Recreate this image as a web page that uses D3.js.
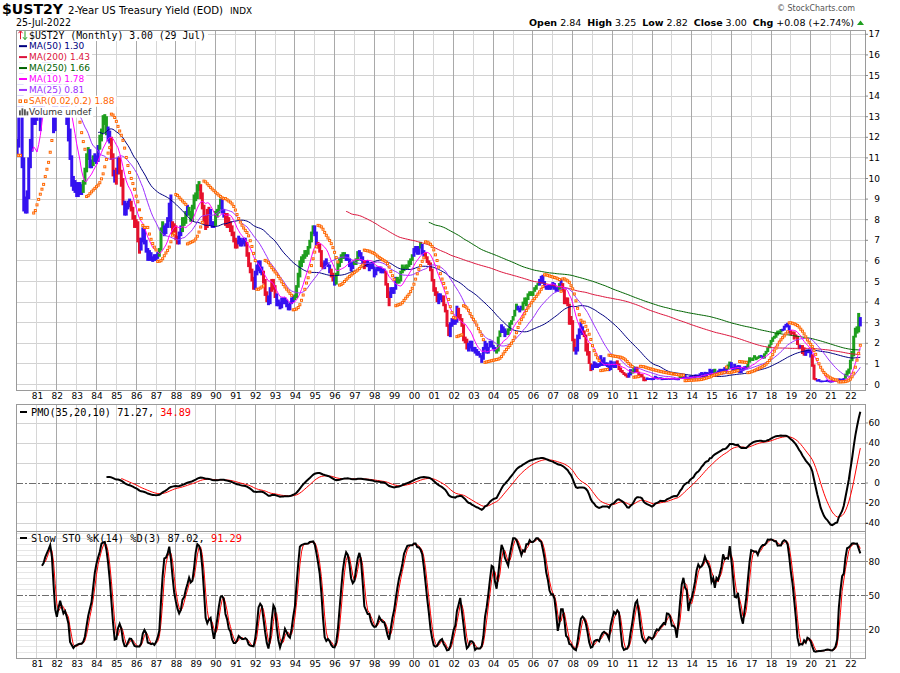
<!DOCTYPE html>
<html><head><meta charset="utf-8">
<script src="https://cdn.jsdelivr.net/npm/d3@7/dist/d3.min.js"></script>
<style>html,body{margin:0;padding:0;background:#fff;}svg{display:block;}</style>
</head><body>
<svg id="chart" width="900" height="673"></svg>
<script>
// ---------------- DATA (monthly, Jan 1980 .. Jul 2022) ----------------
const yearTicks = d3.range(1981, 2023);
const yearLabels = yearTicks.map(y => String(y % 100).padStart(2, '0'));
const mainTicks = d3.range(0, 18);
const pmoTicks = [60, 40, 20, 0, -20, -40];
const stoTicks = [80, 50, 20];

const close = [
11.6,14.3,15.0,10.8,8.8,8.4,9.2,10.7,11.4,12.8,13.7,13.3,
13.5,14.4,13.2,14.6,15.0,14.5,15.5,16.6,16.3,14.6,12.6,13.4,
14.3,14.4,14.3,13.5,13.6,14.6,12.8,12.4,11.0,9.9,9.7,9.7,
9.4,9.5,9.6,9.4,9.8,10.4,11.0,11.3,10.7,10.8,11.0,11.0,
10.9,11.5,11.9,12.3,13.0,12.9,12.3,12.1,11.8,11.0,10.3,10.0,
10.4,10.9,10.3,9.9,8.8,8.4,8.6,8.8,8.8,8.5,8.1,7.8,
7.8,7.0,6.6,7.0,7.5,6.9,6.5,6.1,6.4,6.1,6.1,6.2,
6.2,6.3,6.5,7.4,7.6,7.4,7.7,8.0,8.6,7.8,7.5,7.6,
7.1,6.9,7.3,7.5,8.0,7.9,8.3,8.5,8.3,8.0,8.6,9.1,
9.1,9.6,9.6,9.2,8.6,8.1,7.7,8.4,8.4,7.8,7.7,7.8,
8.3,8.4,8.6,8.9,8.4,8.2,7.8,7.9,7.8,7.6,7.3,7.0,
6.9,6.9,7.0,6.8,6.8,7.0,6.8,6.3,5.8,5.6,5.1,4.7,
5.4,5.6,5.9,5.6,5.4,5.0,4.4,4.1,3.9,4.6,5.0,4.7,
4.3,3.9,3.9,3.7,4.1,4.0,4.1,3.8,3.7,3.9,4.1,4.2,
4.3,4.7,5.3,5.8,6.1,6.2,6.3,6.4,6.6,6.9,7.3,7.6,
7.3,6.8,6.7,6.5,5.8,5.7,5.8,5.9,5.8,5.5,5.3,5.1,
4.9,5.3,5.8,6.0,6.2,6.3,6.2,6.2,6.1,5.8,5.6,5.9,
5.9,6.1,6.4,6.3,6.1,5.9,5.7,6.0,5.8,5.7,5.8,5.7,
5.4,5.6,5.6,5.6,5.5,5.5,5.5,4.9,4.3,4.2,4.6,4.5,
4.6,5.1,5.0,5.0,5.4,5.5,5.6,5.7,5.7,5.8,6.0,6.2,
6.5,6.6,6.4,6.6,6.7,6.4,6.3,6.2,6.0,5.9,5.6,5.1,
4.6,4.4,4.2,4.3,4.2,4.2,3.8,3.6,2.8,2.4,2.8,3.0,
3.1,3.0,3.7,3.2,3.2,2.8,2.2,2.1,1.7,1.8,2.0,1.6,
1.7,1.5,1.5,1.5,1.3,1.3,1.7,2.0,1.5,1.8,2.0,1.8,
1.7,1.6,1.6,2.3,2.5,2.7,2.7,2.4,2.6,2.6,3.0,3.1,
3.3,3.6,3.8,3.6,3.6,3.6,4.0,3.9,4.2,4.4,4.4,4.4,
4.5,4.7,4.8,4.9,5.0,5.2,4.95,4.8,4.7,4.7,4.6,4.8,
4.9,4.6,4.6,4.6,4.9,4.9,4.6,4.2,4.0,3.9,3.0,3.05,
2.1,1.6,1.6,2.3,2.65,2.6,2.5,2.4,2.0,1.6,1.0,0.77,
0.9,1.0,0.8,0.9,0.9,1.1,1.1,0.96,0.95,0.9,0.7,1.14,
0.9,0.8,1.0,0.97,0.76,0.6,0.55,0.5,0.42,0.34,0.45,0.6,
0.55,0.7,0.8,0.6,0.45,0.45,0.36,0.2,0.25,0.25,0.25,0.24,
0.22,0.29,0.33,0.27,0.27,0.30,0.23,0.23,0.23,0.28,0.25,0.25,
0.26,0.25,0.24,0.21,0.30,0.36,0.31,0.39,0.32,0.31,0.28,0.38,
0.34,0.33,0.44,0.42,0.37,0.46,0.53,0.49,0.58,0.50,0.47,0.67,
0.45,0.62,0.56,0.58,0.61,0.64,0.67,0.74,0.64,0.75,0.94,1.06,
0.76,0.78,0.73,0.78,0.88,0.58,0.66,0.81,0.77,0.84,1.11,1.20,
1.19,1.26,1.27,1.28,1.28,1.38,1.36,1.33,1.47,1.60,1.78,1.89,
2.14,2.25,2.27,2.49,2.40,2.52,2.67,2.63,2.81,2.87,2.80,2.49,
2.45,2.52,2.27,2.27,1.95,1.75,1.89,1.50,1.63,1.52,1.61,1.58,
1.33,0.86,0.23,0.20,0.16,0.16,0.11,0.14,0.13,0.14,0.15,0.12,
0.11,0.13,0.16,0.16,0.14,0.25,0.19,0.20,0.28,0.48,0.57,0.73,
1.18,1.44,2.28,2.70,2.53,2.92,3.00];

const high = [
11.9,14.6,15.9,15.2,11.0,9.1,9.4,11.0,11.9,13.1,14.3,15.3,
14.0,14.8,14.6,14.9,16.0,15.4,15.8,16.9,16.95,16.5,14.8,13.6,
14.6,14.8,14.6,14.5,13.8,14.8,14.7,13.0,12.4,11.1,10.1,9.9,
9.8,9.8,9.8,9.7,9.9,10.5,11.2,11.5,11.4,10.9,11.1,11.2,
11.1,11.6,12.1,12.4,13.05,13.1,13.0,12.5,12.3,12.0,11.2,10.4,
10.5,11.0,11.0,10.4,10.0,8.9,8.8,8.9,9.0,8.9,8.6,8.2,
8.0,7.9,7.1,7.1,7.6,7.6,7.0,6.6,6.5,6.4,6.2,6.3,
6.3,6.4,6.6,7.6,7.9,7.7,7.8,8.1,8.8,9.2,7.9,7.8,
7.7,7.2,7.4,7.7,8.1,8.1,8.4,8.7,8.6,8.4,8.7,9.2,
9.3,9.7,9.85,9.7,9.3,8.7,8.2,8.5,8.6,8.5,7.9,7.9,
8.4,8.5,8.7,9.0,9.0,8.5,8.3,8.3,8.1,7.9,7.7,7.4,
7.1,7.0,7.2,7.1,7.0,7.1,7.1,6.9,6.4,5.9,5.6,5.2,
5.5,5.8,6.0,6.0,5.7,5.5,5.1,4.5,4.3,4.7,5.1,5.1,
4.8,4.4,4.1,4.0,4.2,4.2,4.2,4.1,3.9,4.0,4.2,4.3,
4.35,4.8,5.4,6.0,6.2,6.3,6.5,6.5,6.7,7.0,7.4,7.7,
7.7,7.4,6.9,6.8,6.5,5.9,6.0,6.1,5.9,5.8,5.6,5.4,
5.2,5.4,5.9,6.1,6.3,6.4,6.4,6.3,6.3,6.1,5.9,5.95,
6.0,6.1,6.45,6.5,6.4,6.2,6.0,6.0,6.0,5.9,5.9,5.9,
5.7,5.6,5.7,5.7,5.7,5.6,5.6,5.5,4.9,4.5,4.7,4.7,
4.7,5.2,5.2,5.1,5.5,5.8,5.7,5.8,5.8,6.0,6.1,6.3,
6.6,6.7,6.7,6.7,6.9,6.8,6.5,6.4,6.2,6.0,5.9,5.6,
5.1,4.7,4.5,4.4,4.4,4.3,4.3,3.9,3.6,2.9,3.0,3.2,
3.2,3.2,3.8,3.7,3.4,3.2,2.9,2.3,2.2,2.0,2.1,2.1,
1.8,1.8,1.7,1.6,1.5,1.4,1.8,2.1,2.0,1.8,2.1,2.1,
1.9,1.8,1.7,2.3,2.6,2.9,2.8,2.7,2.6,2.7,3.0,3.1,
3.3,3.6,3.9,3.8,3.7,3.8,4.0,4.2,4.2,4.4,4.5,4.5,
4.5,4.7,4.8,4.9,5.1,5.25,5.3,5.0,4.8,4.8,4.8,4.8,
4.95,4.9,4.7,4.7,4.9,5.1,4.9,4.6,4.2,4.2,3.9,3.3,
3.1,2.2,1.8,2.4,2.7,3.0,2.8,2.6,2.4,2.0,1.6,1.0,
0.95,1.1,1.05,1.0,1.0,1.4,1.2,1.3,1.05,1.05,0.9,1.14,
1.1,0.95,1.1,1.15,1.0,0.8,0.68,0.58,0.52,0.45,0.55,0.72,
0.66,0.86,0.83,0.84,0.6,0.48,0.48,0.36,0.25,0.32,0.28,0.29,
0.27,0.31,0.40,0.35,0.30,0.33,0.31,0.29,0.28,0.30,0.29,0.28,
0.28,0.28,0.27,0.25,0.30,0.43,0.39,0.42,0.47,0.36,0.31,0.40,
0.42,0.36,0.46,0.46,0.44,0.52,0.58,0.53,0.59,0.58,0.56,0.74,
0.68,0.72,0.74,0.58,0.66,0.74,0.73,0.74,0.82,0.76,0.95,1.09,
1.06,0.82,0.98,0.87,0.92,0.91,0.72,0.83,0.86,0.88,1.13,1.30,
1.25,1.29,1.40,1.30,1.34,1.39,1.41,1.36,1.49,1.61,1.78,1.92,
2.14,2.27,2.34,2.49,2.59,2.59,2.67,2.68,2.83,2.92,2.97,2.85,
2.62,2.54,2.55,2.41,2.34,1.92,1.89,1.89,1.78,1.64,1.68,1.67,
1.62,1.44,0.95,0.29,0.21,0.24,0.16,0.17,0.15,0.17,0.21,0.18,
0.13,0.19,0.17,0.19,0.17,0.27,0.26,0.24,0.29,0.50,0.66,0.75,
1.18,1.60,2.34,2.73,2.80,3.45,3.25];

const low = [
11.1,11.5,14.0,10.5,8.4,8.3,8.3,9.0,10.5,11.3,12.6,12.6,
12.8,13.2,12.3,13.0,14.3,14.2,14.4,15.4,15.7,14.4,12.2,12.3,
13.3,14.0,13.6,13.3,13.1,13.5,12.6,11.8,10.9,9.6,9.4,9.3,
9.1,9.1,9.2,9.2,9.3,9.7,10.3,10.9,10.5,10.5,10.6,10.8,
10.7,10.8,11.4,11.8,12.2,12.6,12.1,11.8,11.7,10.9,10.1,9.8,
9.7,10.2,10.2,9.6,8.7,8.2,8.2,8.5,8.6,8.4,8.0,7.6,
7.6,6.9,6.35,6.5,6.9,6.8,6.4,6.0,6.0,6.0,5.95,6.0,
6.0,6.1,6.2,6.5,7.3,7.2,7.3,7.6,7.9,7.6,7.3,7.4,
7.0,6.8,6.8,7.2,7.4,7.7,7.8,8.2,8.2,7.9,7.9,8.5,
8.9,9.0,9.4,9.0,8.5,7.9,7.5,7.6,8.2,7.7,7.6,7.6,
7.7,8.1,8.3,8.5,8.3,8.1,7.7,7.6,7.6,7.4,7.2,6.9,
6.6,6.6,6.8,6.7,6.7,6.8,6.7,6.2,5.7,5.4,5.0,4.6,
4.6,5.3,5.5,5.4,5.3,4.9,4.3,4.0,3.85,3.9,4.5,4.6,
4.2,3.8,3.8,3.65,3.7,3.9,3.9,3.75,3.6,3.6,3.9,4.0,
4.1,4.2,4.7,5.2,5.7,5.9,6.1,6.2,6.3,6.6,6.9,7.3,
7.2,6.7,6.6,6.4,5.7,5.6,5.6,5.8,5.7,5.4,5.2,5.0,
4.8,4.85,5.3,5.7,5.9,6.1,6.1,6.0,6.0,5.7,5.5,5.6,
5.8,5.8,6.0,6.2,6.0,5.8,5.6,5.7,5.7,5.5,5.6,5.6,
5.2,5.3,5.5,5.5,5.4,5.4,5.4,4.8,4.2,3.8,4.2,4.4,
4.4,4.6,4.9,4.9,5.0,5.4,5.5,5.6,5.6,5.7,5.8,6.0,
6.2,6.4,6.3,6.3,6.6,6.3,6.2,6.1,5.9,5.8,5.5,5.0,
4.5,4.3,4.0,3.9,4.1,4.0,3.8,3.5,2.8,2.35,2.3,2.8,
2.9,2.9,3.0,3.2,3.1,2.8,2.1,2.0,1.7,1.6,1.75,1.6,
1.6,1.5,1.4,1.4,1.3,1.05,1.2,1.7,1.5,1.5,1.8,1.8,
1.7,1.6,1.5,1.6,2.3,2.5,2.5,2.3,2.4,2.4,2.6,2.9,
3.1,3.3,3.6,3.6,3.5,3.6,3.6,3.9,3.8,4.1,4.3,4.3,
4.3,4.5,4.6,4.8,4.8,4.9,4.9,4.7,4.6,4.6,4.6,4.6,
4.7,4.6,4.5,4.5,4.6,4.8,4.5,3.9,3.9,3.8,2.9,2.9,
2.1,1.6,1.45,1.6,2.2,2.5,2.4,2.3,1.6,1.4,1.0,0.65,
0.7,0.8,0.8,0.8,0.85,0.9,0.9,0.95,0.9,0.85,0.65,0.7,
0.85,0.8,0.8,0.95,0.7,0.6,0.55,0.46,0.4,0.33,0.33,0.44,
0.53,0.55,0.6,0.6,0.45,0.35,0.35,0.16,0.16,0.22,0.22,0.23,
0.21,0.22,0.28,0.25,0.25,0.27,0.21,0.22,0.22,0.23,0.24,0.23,
0.24,0.24,0.23,0.21,0.21,0.28,0.30,0.30,0.32,0.29,0.27,0.28,
0.32,0.31,0.30,0.38,0.36,0.36,0.45,0.40,0.48,0.34,0.47,0.46,
0.44,0.45,0.53,0.50,0.55,0.57,0.62,0.57,0.62,0.55,0.72,0.86,
0.76,0.64,0.72,0.70,0.74,0.55,0.56,0.65,0.71,0.75,0.80,1.06,
1.15,1.14,1.26,1.18,1.24,1.28,1.35,1.26,1.26,1.46,1.57,1.76,
1.92,2.07,2.22,2.27,2.38,2.46,2.52,2.59,2.62,2.77,2.78,2.48,
2.39,2.45,2.18,2.27,1.92,1.71,1.74,1.48,1.40,1.39,1.52,1.53,
1.31,0.86,0.23,0.20,0.14,0.15,0.11,0.11,0.12,0.12,0.15,0.11,
0.10,0.10,0.12,0.15,0.14,0.14,0.17,0.19,0.20,0.28,0.42,0.52,
0.73,1.13,1.37,2.28,2.47,2.53,2.82];

// bar colour per month (g = green, r = red, b = blue), one string per year
const impulse = [
"bbbbbbbbbbbb","bbbbbbbbbbbb","bbbbbbbbbbbb","bbbbggggbbgb","bbgggggbbrrb",
"rbrrrbbbbrrr","rrrbbbbbbbbb","bbgggbbbbbrr","rrbbgggbgggg","gggrrrrrrbbb",
"ggggbbrrrrrr","rrbbbbbrrrrr","bbbbbrrrbbrr","rbbbbbbbbbbb","gggggggggggg",
"bbrrrrbbbbrr","bggggggbbbbb","gggbbbrrbbbb","bbbbbbbrrrbb","bbgggggggggg",
"bbbbgbbrrrrr","rrrbbbrrrrbb","bbbrrrrrrbbb","bbbbbbbbbbbb","bbgggbbbbggg",
"gggbbbgggggg","ggggbbbbbbbb","bbbbgbrrrrrr","rrbbbbbrrrrr","bbbbbbbbbbbb",
"bbbrrrrrrrbb","ggbrrrrrrbbb","bbbbbbbbbbbb","bbbbbggbbbbb","bbbbbbbbbbbb",
"bbgbbbbbbbgg","bbbbbbbbbbgg","ggggggbbgggg","gggggggbbbbb","rrrrrrbrrbbb",
"brrrbbbbbbbb","bbbbbbbbbggg","ggggggb"].join("");

const legendMain = ["$UST2Y (Monthly) 3.00 (29 Jul)", "MA(50) 1.30", "MA(200) 1.43", "MA(250) 1.66",
  "MA(10) 1.78", "MA(25) 0.81", "SAR(0.02,0.2) 1.88", "Volume undef"];

// ---------------- INDICATORS (from the price arrays) ----------------
const n = close.length;
function sma(arr, p) {
  return arr.map((v, i) => i < p - 1 ? null : d3.mean(arr.slice(i - p + 1, i + 1)));
}
const ma = { 50: sma(close, 50), 200: sma(close, 200), 250: sma(close, 250), 10: sma(close, 10), 25: sma(close, 25) };

function parabolicSar(step, maxAf) {
  const out = new Array(n).fill(null);
  let up = close[1] > close[0];
  let af = step, ep = up ? high[0] : low[0], s = up ? low[0] : high[0];
  out[0] = s;
  for (let i = 1; i < n; i++) {
    let nx = s + af * (ep - s);
    if (up) {
      nx = Math.min(nx, low[i - 1], low[Math.max(0, i - 2)]);
      if (low[i] < nx) { up = false; nx = ep; ep = low[i]; af = step; }
      else if (high[i] > ep) { ep = high[i]; af = Math.min(af + step, maxAf); }
    } else {
      nx = Math.max(nx, high[i - 1], high[Math.max(0, i - 2)]);
      if (high[i] > nx) { up = true; nx = ep; ep = high[i]; af = step; }
      else if (low[i] < ep) { ep = low[i]; af = Math.min(af + step, maxAf); }
    }
    s = nx; out[i] = s;
  }
  return out;
}
const sar = parabolicSar(0.02, 0.2);

// PMO(35,20,10)
const roc = close.map((c, i) => i === 0 ? null : (c / close[i - 1] * 100 - 100));
const s1 = new Array(n).fill(null);
s1[35] = d3.mean(roc.slice(1, 36));
for (let i = 36; i < n; i++) s1[i] = s1[i - 1] + (2 / 35) * (roc[i] - s1[i - 1]);
const pmo = new Array(n).fill(null);
pmo[54] = d3.mean(s1.slice(35, 55).map(v => v * 10));
for (let i = 55; i < n; i++) pmo[i] = pmo[i - 1] + (2 / 20) * (10 * s1[i] - pmo[i - 1]);
const pmoSig = new Array(n).fill(null);
pmoSig[63] = d3.mean(pmo.slice(54, 64));
for (let i = 64; i < n; i++) pmoSig[i] = pmoSig[i - 1] + (2 / 11) * (pmo[i] - pmoSig[i - 1]);

// Slow stochastic %K(14) %D(3)
const fastK = close.map((c, i) => {
  if (i < 13) return null;
  const hh = d3.max(high.slice(i - 13, i + 1)), ll = d3.min(low.slice(i - 13, i + 1));
  return hh === ll ? 50 : 100 * (c - ll) / (hh - ll);
});
const slowK = fastK.map((v, i) => i < 15 ? null : d3.mean(fastK.slice(i - 2, i + 1)));
const slowD = slowK.map((v, i) => i < 17 ? null : d3.mean(slowK.slice(i - 2, i + 1)));

// ---------------- LAYOUT ----------------
const L = 16, R = 865;
const P = {
  main: { top: 30, bottom: 390 },
  pmo:  { top: 404, bottom: 531 },
  sto:  { top: 531, bottom: 658 }
};
const FONT = "'DejaVu Sans', Verdana, sans-serif";
const MONO = "'DejaVu Sans Mono', monospace";

const x = d3.scaleLinear().domain([0, 504]).range([17.16, 850.4]);
const yMain = d3.scaleLinear().domain([0, 17]).range([384, 33.8]);
const yPmo = d3.scaleLinear().domain([0, 60]).range([482.5, 422.5]);
const ySto = d3.scaleLinear().domain([20, 80]).range([629, 561]);
const tickMonths = yearTicks.map(y => (y - 1980) * 12);

const svg = d3.select("#chart");
svg.append("rect").attr("width", 900).attr("height", 673).attr("fill", "#fff");
const defs = svg.append("defs");
Object.entries(P).forEach(([k, p]) => {
  defs.append("clipPath").attr("id", "clip-" + k)
    .append("rect").attr("x", L).attr("y", p.top).attr("width", R - L).attr("height", p.bottom - p.top);
});

// force a text to span the width seen in the reference
function span(sel, width) {
  return sel.attr("textLength", width).attr("lengthAdjust", "spacingAndGlyphs");
}

function vGrid(g, p) {
  g.selectAll(null).data(yearTicks).join("line")
    .attr("x1", (d) => x((d - 1980) * 12)).attr("x2", (d) => x((d - 1980) * 12))
    .attr("y1", p.top).attr("y2", p.bottom)
    .attr("stroke", d => d % 2 === 0 ? "#a9a9a9" : "#d6d6d6").attr("stroke-width", 1)
    .attr("shape-rendering", "crispEdges");
}
function hLine(g, y, color, dash) {
  g.append("line").attr("x1", L).attr("x2", R).attr("y1", Math.round(y) + 0.5).attr("y2", Math.round(y) + 0.5)
    .attr("stroke", color).attr("stroke-width", 1).attr("stroke-dasharray", dash || null);
}
function border(p) {
  svg.append("rect").attr("x", L + 0.5).attr("y", p.top + 0.5).attr("width", R - L).attr("height", p.bottom - p.top)
    .attr("fill", "none").attr("stroke", "#9a9a9a").attr("stroke-width", 1);
}
function rightAxis(scale, ticks, fmt) {
  const g = svg.append("g").attr("transform", `translate(${R},0)`)
    .call(d3.axisRight(scale).tickValues(ticks).tickSize(3).tickFormat(fmt || (d => d)));
  g.select(".domain").remove();
  g.selectAll(".tick line").attr("stroke", "#888");
  g.selectAll("text").attr("text-anchor", "end").attr("x", 15).attr("dy", "0.35em")
    .attr("fill", "#000").style("font-family", FONT).style("font-size", "9px");
}
function bottomAxis(y) {
  const g = svg.append("g").attr("transform", `translate(0,${y})`)
    .call(d3.axisBottom(x).tickValues(tickMonths).tickSize(0).tickPadding(3).tickFormat((d, i) => yearLabels[i]));
  g.select(".domain").remove();
  g.selectAll("text").attr("fill", "#000").style("font-family", FONT).style("font-size", "9px");
}

// ---------------- MAIN PANEL ----------------
const gMainGrid = svg.append("g");
mainTicks.forEach(v => hLine(gMainGrid, yMain(v), "#d2d2d2"));
vGrid(gMainGrid, P.main);

const gMain = svg.append("g").attr("clip-path", "url(#clip-main)");
const barColor = { g: "#1e9e1e", r: "#e6102c", b: "#3512f0" };
gMain.selectAll(".bar").data(d3.range(n)).join("line")
  .attr("x1", i => x(i)).attr("x2", i => x(i))
  .attr("y1", i => yMain(high[i])).attr("y2", i => yMain(low[i]) + 0.5)
  .attr("stroke", i => barColor[impulse[i]]).attr("stroke-width", 3);

const maStyles = [[250, "#006400"], [200, "#dc143c"], [50, "#000080"], [25, "#9b30ff"], [10, "#ff00ff"]];
maStyles.forEach(([p, col]) => {
  const line = d3.line().defined(d => d != null).x((d, i) => x(i)).y(d => yMain(d));
  gMain.append("path").datum(ma[p]).attr("d", line).attr("fill", "none").attr("stroke", col).attr("stroke-width", 1);
});

gMain.selectAll(".sar").data(d3.range(n)).join("rect")
  .attr("x", i => x(i) - 1).attr("y", i => yMain(sar[i]) - 1)
  .attr("width", 2).attr("height", 2)
  .attr("fill", "#fff").attr("stroke", "#ff6600").attr("stroke-width", 1);

// legend (with white background behind each row)
const legColors = ["#000", "#000080", "#dc143c", "#006400", "#ff00ff", "#9b30ff", "#ff6600", "#333"];
const legG = svg.append("g");
legendMain.forEach((t, k) => {
  const by = 38.5 + k * 10.95;
  const txt = legG.append("text").attr("x", 29).attr("y", by).text(t)
    .attr("fill", legColors[k])
    .style("font-family", k === 0 ? MONO : FONT).style("font-size", k === 0 ? "9.8px" : "9px");
  if (k === 0) span(txt, 177);
  const w = k === 0 ? 177 : txt.node().getComputedTextLength();
  legG.insert("rect", "text").attr("x", L + 1).attr("y", by - 8.5).attr("width", 29 - L - 1 + w + 2).attr("height", 11).attr("fill", "#fff");
  const cy = by - 3.3;
  if (k === 0) {
    legG.append("path").attr("d", `M20.5,${cy + 4} V${cy - 4} M18.5,${cy - 2} L20.5,${cy - 4.5} L22.5,${cy - 2}`).attr("stroke", "#e6102c").attr("fill", "none");
    legG.append("path").attr("d", `M25,${cy - 4} V${cy + 4} M23,${cy + 2} L25,${cy + 4.5} L27,${cy + 2}`).attr("stroke", "#1e9e1e").attr("fill", "none");
  } else if (k >= 1 && k <= 5) {
    legG.append("line").attr("x1", 19).attr("x2", 27).attr("y1", cy).attr("y2", cy).attr("stroke", legColors[k]).attr("stroke-width", 2);
  } else if (k === 6) {
    [19, 24.5].forEach(xx => legG.append("rect").attr("x", xx).attr("y", cy - 1).attr("width", 2.5).attr("height", 2.5)
      .attr("fill", "#fff").attr("stroke", "#ff6600").attr("stroke-width", 1));
  } else {
    [[19, 5], [21.5, 7], [24, 6], [26.5, 4]].forEach(([xx, h]) => legG.append("rect").attr("x", xx).attr("y", cy + 3.5 - h)
      .attr("width", 1.8).attr("height", h).attr("fill", "#555"));
  }
});
border(P.main);
rightAxis(yMain, mainTicks);
bottomAxis(P.main.bottom);

// ---------------- PMO PANEL ----------------
const gPG = svg.append("g");
pmoTicks.filter(v => v !== 0).forEach(v => hLine(gPG, yPmo(v), "#d2d2d2"));
vGrid(gPG, P.pmo);
hLine(gPG, yPmo(0), "#6e6e6e", "7,2,2,2");
const gP = svg.append("g").attr("clip-path", "url(#clip-pmo)");
const pLine = d3.line().defined(d => d != null).x((d, i) => x(i)).y(d => yPmo(d));
gP.append("path").datum(pmoSig).attr("d", pLine).attr("fill", "none").attr("stroke", "#ff0000").attr("stroke-width", 1);
gP.append("path").datum(pmo).attr("d", pLine).attr("fill", "none").attr("stroke", "#000").attr("stroke-width", 2);
svg.append("line").attr("x1", 20).attr("x2", 27).attr("y1", 412).attr("y2", 412).attr("stroke", "#000").attr("stroke-width", 2);
const pt = svg.append("text").attr("x", 31).attr("y", 415.5).style("font-family", MONO).style("font-size", "9.8px");
pt.append("tspan").attr("fill", "#000").text("PMO(35,20,10) 71.27, ");
pt.append("tspan").attr("fill", "#ff0000").text("34.89");
span(pt, 160);
border(P.pmo);
rightAxis(yPmo, pmoTicks);

// ---------------- STO PANEL ----------------
const gSG = svg.append("g");
d3.range(-5, 106, 5).forEach(v => {
  if (v === 20 || v === 50 || v === 80) return;
  const yy = ySto(v);
  if (yy > P.sto.top + 1 && yy < P.sto.bottom - 1) hLine(gSG, yy, "#e6e6e6");
});
vGrid(gSG, P.sto);
hLine(gSG, ySto(80), "#8a8a8a");
hLine(gSG, ySto(20), "#8a8a8a");
hLine(gSG, ySto(50), "#6e6e6e", "7,2,2,2");
const gS = svg.append("g").attr("clip-path", "url(#clip-sto)");
const sLine = d3.line().defined(d => d != null).x((d, i) => x(i)).y(d => ySto(d));
gS.append("path").datum(slowD).attr("d", sLine).attr("fill", "none").attr("stroke", "#ff0000").attr("stroke-width", 1);
gS.append("path").datum(slowK).attr("d", sLine).attr("fill", "none").attr("stroke", "#000").attr("stroke-width", 2);
svg.append("line").attr("x1", 20).attr("x2", 27).attr("y1", 538).attr("y2", 538).attr("stroke", "#000").attr("stroke-width", 2);
const st = svg.append("text").attr("x", 31).attr("y", 541.5).style("font-family", MONO).style("font-size", "9.8px");
st.append("tspan").attr("fill", "#000").text("Slow STO %K(14) %D(3) 87.02, ");
st.append("tspan").attr("fill", "#ff0000").text("91.29");
span(st, 211);
border(P.sto);
rightAxis(ySto, stoTicks);
bottomAxis(P.sto.bottom);

// ---------------- HEADER ----------------
span(svg.append("text").attr("x", 2).attr("y", 14).text("$UST2Y")
  .style("font-family", FONT).style("font-weight", "bold").style("font-size", "13.5px").attr("fill", "#000"), 61);
span(svg.append("text").attr("x", 68).attr("y", 13.5).text("2-Year US Treasury Yield (EOD)")
  .style("font-family", FONT).style("font-size", "10px").attr("fill", "#000"), 155);
span(svg.append("text").attr("x", 230).attr("y", 13.5).text("INDX")
  .style("font-family", FONT).style("font-size", "8.5px").attr("fill", "#000"), 22);
span(svg.append("text").attr("x", 16).attr("y", 26).text("25-Jul-2022")
  .style("font-family", FONT).style("font-size", "9.8px").attr("fill", "#000"), 55);
span(svg.append("text").attr("x", 777).attr("y", 11).text("\u00A9 StockCharts.com")
  .style("font-family", FONT).style("font-size", "8.5px").attr("fill", "#555"), 78);

const ohlc = [["Open", "2.84"], ["High", "3.25"], ["Low", "2.82"], ["Close", "3.00"], ["Chg", "+0.08 (+2.74%)"]];
const ot = svg.append("text").attr("x", 854).attr("y", 25.5).attr("text-anchor", "end")
  .style("font-family", FONT).style("font-size", "9.5px").attr("fill", "#000");
ohlc.forEach(([k, v], i) => {
  ot.append("tspan").attr("dx", i === 0 ? 0 : 6).style("font-weight", "bold").text(k);
  ot.append("tspan").attr("dx", 3).text(v);
});
svg.append("path").attr("d", "M857,25 L864,25 L860.5,20.5 Z").attr("fill", "#1e9e1e");
</script>
</body></html>
